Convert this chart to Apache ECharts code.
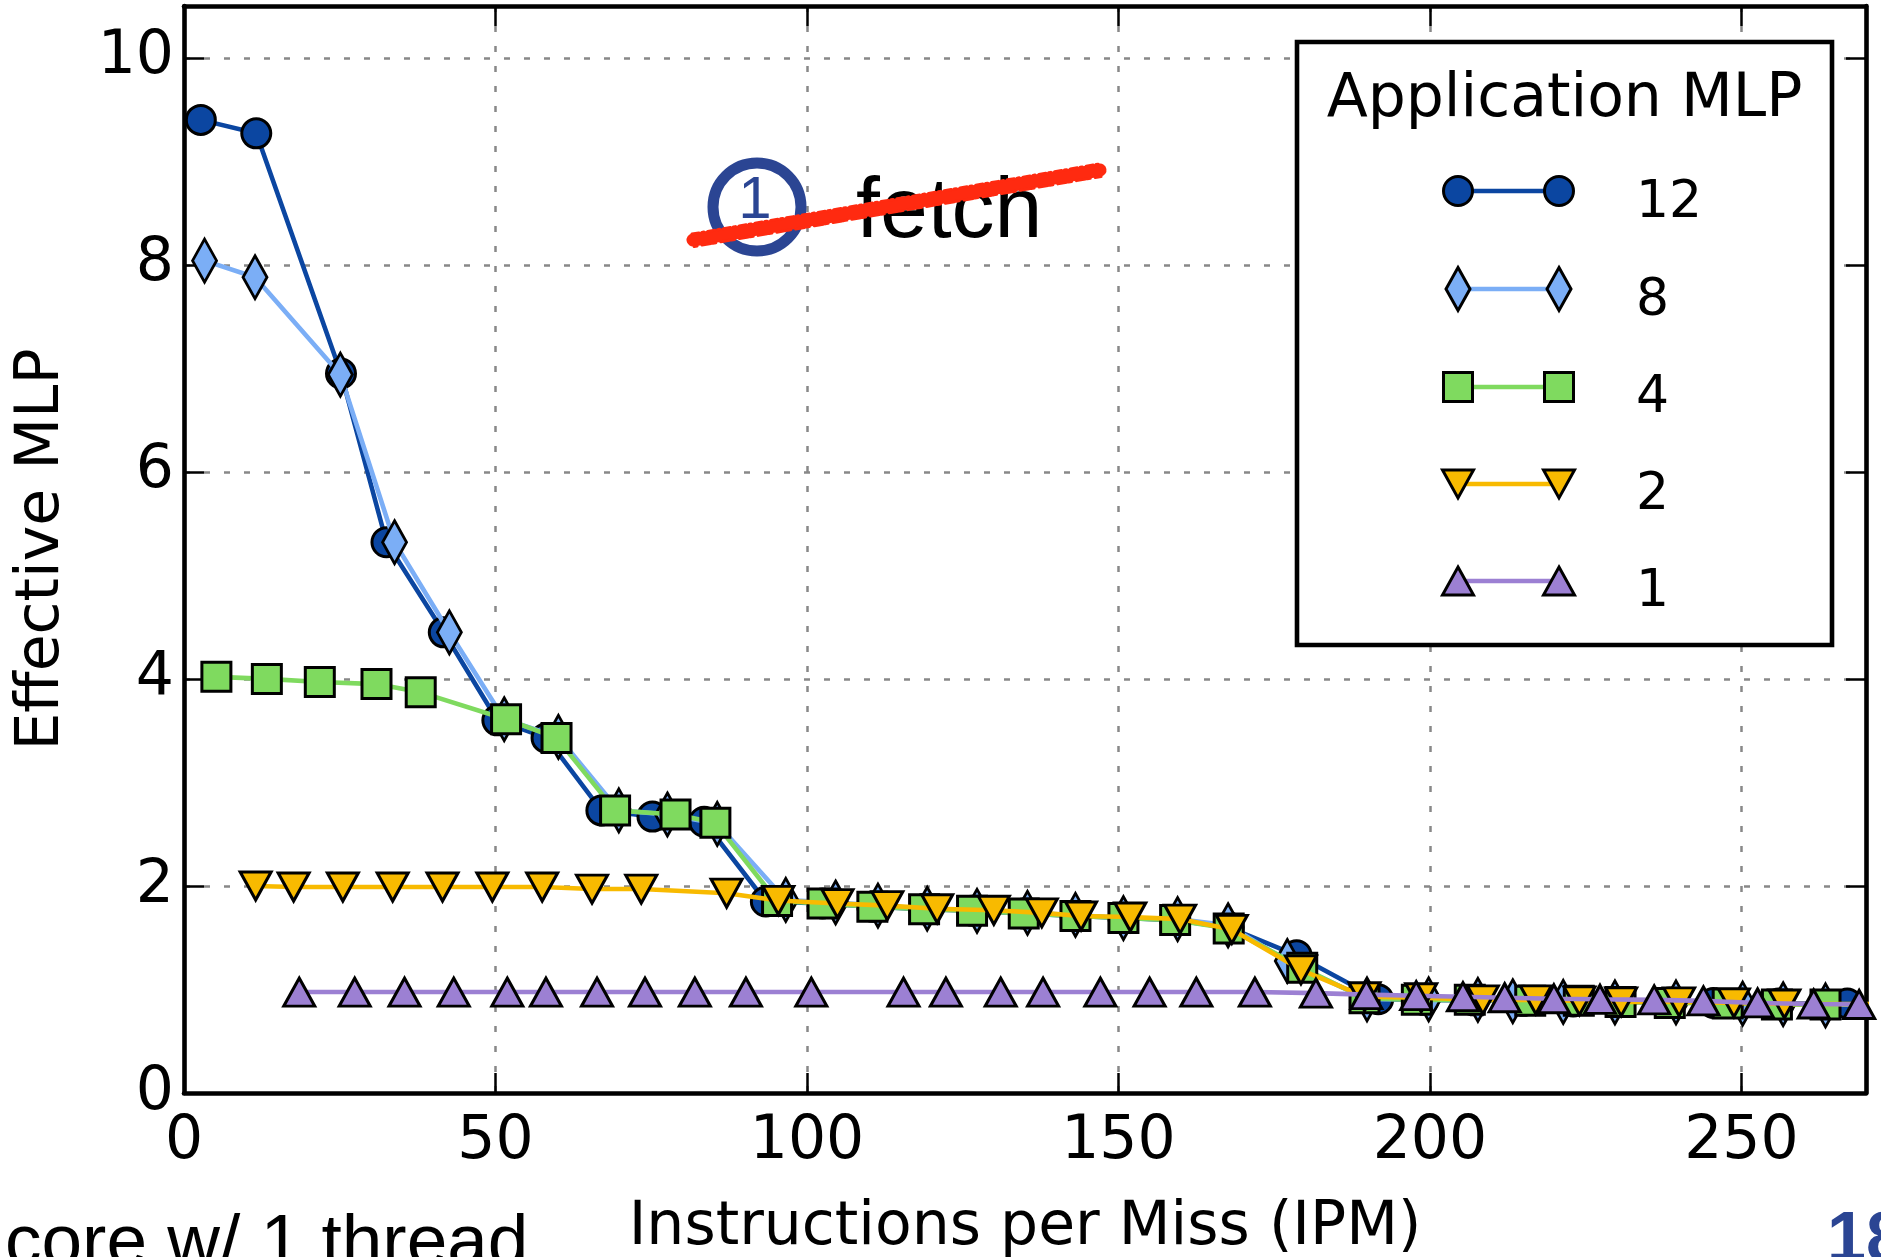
<!DOCTYPE html>
<html>
<head>
<meta charset="utf-8">
<script src="https://cdn.jsdelivr.net/npm/echarts@6/dist/echarts.min.js"></script>
<style>
  html, body { margin: 0; padding: 0; background: #ffffff; }
  #chart { width: 1881px; height: 1257px; }
</style>
</head>
<body>
<div id="chart"></div>
<script>
// Effective MLP versus instructions per miss, one curve per application MLP.
const ipm12 = [2.7, 11.6, 25.2, 32.5, 41.7, 50.3, 58.2, 67.0, 75.2, 83.5, 93.4, 102.5, 110.5, 118.8, 126.5, 134.8, 143.1, 150.8, 159.1, 167.7, 178.6, 191.7, 199.0, 207.0, 215.0, 223.0, 230.6, 238.5, 245.5, 256.0, 267.0];
const mlp12 = [9.40, 9.27, 6.95, 5.32, 4.45, 3.60, 3.43, 2.73, 2.67, 2.62, 1.85, 1.83, 1.80, 1.775, 1.76, 1.735, 1.71, 1.69, 1.67, 1.60, 1.33, 0.905, 0.90, 0.895, 0.89, 0.885, 0.88, 0.875, 0.87, 0.865, 0.865];

const ipm8 = [3.3, 11.4, 25.1, 33.8, 42.6, 51.4, 60.1, 69.8, 77.6, 85.6, 96.6, 104.6, 111.4, 119.3, 127.3, 135.4, 143.1, 150.8, 159.5, 167.6, 177.1, 189.9, 199.8, 207.7, 213.3, 221.4, 229.7, 239.5, 250.2, 256.7, 263.5];
const mlp8 = [8.04, 7.88, 6.94, 5.32, 4.45, 3.61, 3.44, 2.73, 2.69, 2.60, 1.865, 1.84, 1.81, 1.78, 1.76, 1.74, 1.72, 1.69, 1.68, 1.62, 1.275, 0.905, 0.905, 0.90, 0.886, 0.88, 0.875, 0.875, 0.863, 0.857, 0.847];

const ipm4 = [5.2, 13.3, 21.8, 30.9, 38.0, 51.7, 59.8, 69.2, 78.9, 85.3, 95.2, 102.5, 110.5, 118.8, 126.5, 134.8, 143.1, 150.8, 159.1, 167.7, 179.5, 189.5, 197.9, 206.4, 216.1, 223.9, 230.6, 238.5, 247.8, 255.7, 263.5, 272.0];
const mlp4 = [4.02, 4.00, 3.97, 3.95, 3.87, 3.61, 3.43, 2.73, 2.69, 2.61, 1.855, 1.83, 1.80, 1.775, 1.76, 1.735, 1.71, 1.69, 1.67, 1.59, 1.21, 0.915, 0.90, 0.90, 0.89, 0.89, 0.88, 0.87, 0.865, 0.855, 0.855, 0.85];

const ipm2 = [11.5, 17.6, 25.5, 33.5, 41.5, 49.5, 57.5, 65.5, 73.4, 87.1, 95.4, 104.9, 112.9, 120.9, 130.0, 137.7, 144.0, 151.9, 159.9, 168.2, 179.3, 189.5, 198.6, 208.5, 217.0, 224.0, 230.7, 240.0, 248.8, 256.9, 272.0];
const mlp2 = [2.00, 1.99, 1.99, 1.99, 1.99, 1.99, 1.99, 1.97, 1.97, 1.93, 1.86, 1.83, 1.81, 1.78, 1.765, 1.74, 1.71, 1.70, 1.68, 1.58, 1.19, 0.93, 0.92, 0.90, 0.90, 0.89, 0.88, 0.88, 0.87, 0.86, 0.86];

const ipm1 = [18.5, 27.4, 35.4, 43.3, 51.9, 58.1, 66.3, 74.0, 82.0, 90.2, 100.7, 115.5, 122.3, 131.1, 137.9, 147.1, 155.0, 162.5, 171.9, 181.7, 189.8, 197.8, 205.3, 212.0, 219.9, 227.3, 236.0, 243.9, 252.6, 261.6, 268.9];
const mlp1 = [0.975, 0.975, 0.975, 0.975, 0.975, 0.975, 0.975, 0.975, 0.975, 0.975, 0.975, 0.975, 0.975, 0.975, 0.975, 0.975, 0.975, 0.975, 0.975, 0.965, 0.95, 0.94, 0.93, 0.92, 0.91, 0.905, 0.90, 0.89, 0.87, 0.86, 0.855];

const seriesNames = ['12', '8', '4', '2', '1'];
const seriesColors = ['#0B46A1', '#7BAEF6', '#7FDA5F', '#F8BA00', '#9C80D3'];
const legendTitle = 'Application MLP';
const xTitle = 'Instructions per Miss (IPM)';
const yTitle = 'Effective MLP';

const xs = [ipm12, ipm8, ipm4, ipm2, ipm1];
const ys = [mlp12, mlp8, mlp4, mlp2, mlp1];

const FONT = 'DejaVu Sans';
const SANS = 'Liberation Sans';

// marker shapes: circle, thin diamond, square, down triangle, up triangle
const markers = [
  { symbol: 'circle', size: 29, rotate: 0 },
  { symbol: 'diamond', size: [24, 43], rotate: 0 },
  { symbol: 'rect', size: 29, rotate: 0 },
  { symbol: 'triangle', size: [31, 28], rotate: 180 },
  { symbol: 'triangle', size: [31, 28], rotate: 0 }
];

const series = seriesNames.map((name, i) => ({
  name: name,
  type: 'line',
  data: xs[i].map((x, k) => [x, ys[i][k]]),
  symbol: markers[i].symbol,
  symbolSize: markers[i].size,
  symbolRotate: markers[i].rotate,
  showAllSymbol: true,
  clip: true,
  z: 3 + i,
  lineStyle: { color: seriesColors[i], width: 4.6 },
  itemStyle: { color: seriesColors[i], borderColor: '#000', borderWidth: 3 },
  emphasis: { disabled: true },
  animation: false
}));

// ---- legend panel ----
const LG = { x: 1297, y: 42, w: 535, h: 603, mx1: 1458, mx2: 1559, tx: 1636 };
const rowY = [191, 289, 387, 484, 581];
const labelY = [203, 301, 398, 495, 592];

function markerShape(i, cx, cy) {
  const st = { fill: seriesColors[i], stroke: '#000', lineWidth: 3 };
  if (i === 0) return { type: 'circle', shape: { cx: cx, cy: cy, r: 14.5 }, style: st, z: 20 };
  if (i === 1) return { type: 'polygon', shape: { points: [[cx, cy - 21.5], [cx + 12, cy], [cx, cy + 21.5], [cx - 12, cy]] }, style: st, z: 20 };
  if (i === 2) return { type: 'rect', shape: { x: cx - 14.5, y: cy - 14.5, width: 29, height: 29 }, style: st, z: 20 };
  if (i === 3) return { type: 'polygon', shape: { points: [[cx - 15.5, cy - 14], [cx + 15.5, cy - 14], [cx, cy + 14]] }, style: st, z: 20 };
  return { type: 'polygon', shape: { points: [[cx, cy - 14], [cx + 15.5, cy + 14], [cx - 15.5, cy + 14]] }, style: st, z: 20 };
}

const legendEls = [
  { type: 'rect', shape: { x: LG.x, y: LG.y, width: LG.w, height: LG.h },
    style: { fill: '#fff', stroke: '#000', lineWidth: 4.6 }, z: 18 },
  { type: 'text', x: LG.x + LG.w / 2, y: 100,
    style: { text: legendTitle, font: '60px "' + FONT + '"', fill: '#000', align: 'center', verticalAlign: 'middle' }, z: 21 }
];
seriesNames.forEach((name, i) => {
  legendEls.push({ type: 'line', shape: { x1: LG.mx1, y1: rowY[i], x2: LG.mx2, y2: rowY[i] },
    style: { stroke: seriesColors[i], lineWidth: 4.6 }, z: 19 });
  legendEls.push(markerShape(i, LG.mx1, rowY[i]));
  legendEls.push(markerShape(i, LG.mx2, rowY[i]));
  legendEls.push({ type: 'text', x: LG.tx, y: labelY[i],
    style: { text: name, font: '52px "' + FONT + '"', fill: '#000', align: 'left', verticalAlign: 'middle' }, z: 21 });
});

// ---- crossed-out "fetch" step ----
const strikeA = [693, 240], strikeB = [1100, 170];
const sdx = strikeB[0] - strikeA[0], sdy = strikeB[1] - strikeA[1];
const slen = Math.hypot(sdx, sdy);
const nx = -sdy / slen, ny = sdx / slen;
function offsetLine(d) {
  return [[strikeA[0] + nx * d, strikeA[1] + ny * d], [strikeB[0] + nx * d, strikeB[1] + ny * d]];
}
const stepEls = [
  { type: 'circle', shape: { cx: 757, cy: 207, r: 44 },
    style: { fill: 'none', stroke: '#2B4593', lineWidth: 11 }, z: 10 },
  { type: 'text', x: 755, y: 201,
    style: { text: '1', font: '60px "' + SANS + '"', fill: '#2B4593', align: 'center', verticalAlign: 'middle' }, z: 11 },
  { type: 'text', x: 856, y: 213,
    style: { text: 'fetch', font: '86px "' + SANS + '"', fill: '#000', align: 'left', verticalAlign: 'middle' }, z: 11 },
  { type: 'polyline', shape: { points: offsetLine(0) },
    style: { stroke: '#FF2A10', lineWidth: 13, lineCap: 'round' }, z: 12 },
  { type: 'polyline', shape: { points: offsetLine(-6) },
    style: { stroke: '#FF2A10', lineWidth: 3, lineDash: [7, 3, 2, 4], lineCap: 'round' }, z: 12 },
  { type: 'polyline', shape: { points: offsetLine(6.5) },
    style: { stroke: '#FF2A10', lineWidth: 3, lineDash: [3, 5, 9, 2], lineCap: 'round' }, z: 12 }
];

// ---- slide footer text ----
const footerEls = [
  { type: 'text', x: 5, y: 1245,
    style: { text: 'core w/ 1 thread', font: '73px "' + SANS + '"', fill: '#000', align: 'left', verticalAlign: 'middle' }, z: 10 },
  { type: 'text', x: 1827, y: 1242,
    style: { text: '18', font: 'bold 70px "' + SANS + '"', fill: '#2B4593', align: 'left', verticalAlign: 'middle' }, z: 10 }
];

const spine = { show: true, onZero: false, lineStyle: { color: '#000', width: 4.6 } };
const tick = { show: true, inside: true, length: 20, lineStyle: { color: '#000', width: 2.5 } };
const grid = { show: true, lineStyle: { color: '#888', width: 2.5, type: [6, 14] } };

const option = {
  animation: false,
  backgroundColor: '#fff',
  grid: { left: 184, right: 15, top: 6, bottom: 164, containLabel: false, outerBoundsMode: 'none' },
  xAxis: [
    { type: 'value', position: 'bottom', min: 0, max: 270, interval: 50,
      axisLine: spine, axisTick: tick, splitLine: grid,
      axisLabel: { fontSize: 60, fontFamily: FONT, color: '#000', margin: 19, showMaxLabel: false },
      name: xTitle, nameLocation: 'middle', nameGap: 105,
      nameTextStyle: { fontSize: 60, fontFamily: FONT, color: '#000' } },
    { type: 'value', position: 'top', min: 0, max: 270, interval: 50,
      axisLine: spine, axisTick: tick, splitLine: { show: false }, axisLabel: { show: false } }
  ],
  yAxis: [
    { type: 'value', position: 'left', min: 0, max: 10.5, interval: 2,
      axisLine: spine, axisTick: tick, splitLine: grid,
      axisLabel: { fontSize: 60, fontFamily: FONT, color: '#000', margin: 10, showMaxLabel: false },
      name: yTitle, nameLocation: 'middle', nameGap: 112,
      nameTextStyle: { fontSize: 60, fontFamily: FONT, color: '#000' } },
    { type: 'value', position: 'right', min: 0, max: 10.5, interval: 2,
      axisLine: spine, axisTick: tick, splitLine: { show: false }, axisLabel: { show: false } }
  ],
  series: series,
  graphic: legendEls.concat(stepEls, footerEls)
};

const chart = echarts.init(document.getElementById('chart'), null, { renderer: 'canvas' });
chart.setOption(option);
</script>
</body>
</html>
